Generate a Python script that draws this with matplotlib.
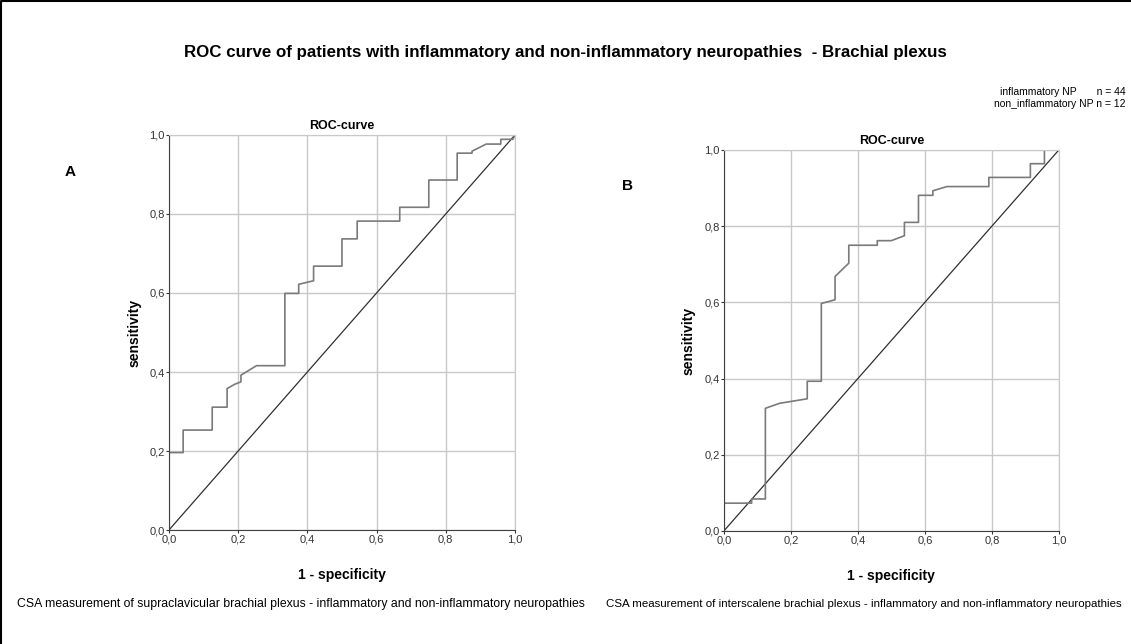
import matplotlib.pyplot as plt
from matplotlib.lines import Line2D
from matplotlib.ticker import FuncFormatter

plt.rcParams['font.family'] = ['Liberation Sans', 'DejaVu Sans']

# ROC curve A - supraclavicular
fpr_a = [0.0, 0.041, 0.041, 0.125, 0.125, 0.168, 0.168, 0.19, 0.208, 0.208, 0.253,
         0.335, 0.335, 0.375, 0.375, 0.418, 0.418, 0.5, 0.5, 0.544, 0.544, 0.667,
         0.667, 0.751, 0.751, 0.833, 0.833, 0.876, 0.876, 0.917, 0.959, 0.959,
         0.994, 1.0]
tpr_a = [0.196, 0.196, 0.253, 0.253, 0.311, 0.311, 0.358, 0.369, 0.375, 0.392, 0.416,
         0.416, 0.599, 0.599, 0.622, 0.631, 0.668, 0.668, 0.737, 0.737, 0.782, 0.782,
         0.817, 0.817, 0.886, 0.886, 0.954, 0.954, 0.959, 0.977, 0.977, 0.989,
         0.989, 1.0]

# ROC curve B - interscalene
fpr_b = [0.0, 0.0, 0.083, 0.083, 0.124, 0.124, 0.166, 0.249, 0.249, 0.291, 0.291,
         0.332, 0.332, 0.373, 0.373, 0.458, 0.458, 0.5, 0.539, 0.539, 0.581, 0.581,
         0.624, 0.624, 0.666, 0.791, 0.791, 0.915, 0.915, 0.957, 0.957, 1.0]
tpr_b = [0.0, 0.073, 0.073, 0.084, 0.084, 0.322, 0.335, 0.347, 0.393, 0.393, 0.597,
         0.607, 0.668, 0.703, 0.750, 0.750, 0.762, 0.762, 0.775, 0.810, 0.810, 0.881,
         0.881, 0.893, 0.904, 0.904, 0.928, 0.928, 0.964, 0.964, 1.0, 1.0]

ticks = [0.0, 0.2, 0.4, 0.6, 0.8, 1.0]
title = 'ROC curve of patients with inflammatory and non-inflammatory neuropathies  - Brachial plexus'
caption_a = 'CSA measurement of supraclavicular brachial plexus - inflammatory and non-inflammatory neuropathies'
caption_b = 'CSA measurement of interscalene brachial plexus - inflammatory and non-inflammatory neuropathies'

fig = plt.figure(figsize=(11.31, 6.44), dpi=100)
# frame on the left and top edge
fig.add_artist(Line2D([0.001, 0.001, 1.0], [0.0, 0.998, 0.998], transform=fig.transFigure,
                      color='black', linewidth=1.5))

comma = FuncFormatter(lambda v, p: f'{v:.1f}'.replace('.', ','))


def roc_panel(rect, fpr, tpr):
    ax = fig.add_axes(rect)
    ax.plot([0, 1], [0, 1], color='#303030', linewidth=0.9)
    ax.plot(fpr, tpr, color='#7a7a7a', linewidth=1.2)
    ax.set_xlim(0, 1)
    ax.set_ylim(0, 1)
    ax.set_xticks(ticks)
    ax.set_yticks(ticks)
    ax.xaxis.set_major_formatter(comma)
    ax.yaxis.set_major_formatter(comma)
    ax.grid(True, color='#c8c8c8', linewidth=1.0)
    ax.set_axisbelow(True)
    for s in ['top', 'right']:
        ax.spines[s].set_color('#c8c8c8')
    for s in ['left', 'bottom']:
        ax.spines[s].set_color('#404040')
    ax.tick_params(length=2, labelsize=8, pad=1, colors='#333333')
    ax.set_title('ROC-curve', fontsize=9, fontweight='bold', pad=4)
    ax.set_xlabel('1 - specificity', fontsize=10, fontweight='bold', labelpad=17)
    ax.set_ylabel('sensitivity', fontsize=10, fontweight='bold', labelpad=6)
    return ax


roc_panel([0.1494, 0.177, 0.3059, 0.6134], fpr_a, tpr_a)
roc_panel([0.640, 0.1755, 0.2962, 0.5916], fpr_b, tpr_b)

fig.text(0.5, 0.918, title, ha='center', va='center', fontsize=12.2, fontweight='bold')
fig.text(0.062, 0.733, 'A', ha='center', va='center', fontsize=11, fontweight='bold')
fig.text(0.555, 0.711, 'B', ha='center', va='center', fontsize=11, fontweight='bold')

fig.text(0.995, 0.857, 'inflammatory NP       n = 44', ha='right', va='center', fontsize=7.5)
fig.text(0.995, 0.838, 'non_inflammatory NP n = 12', ha='right', va='center', fontsize=7.5)

fig.text(0.2657, 0.062, caption_a, ha='center', va='center', fontsize=8.8)
fig.text(0.764, 0.062, caption_b, ha='center', va='center', fontsize=8.25)

fig.savefig('out.png', dpi=100)
